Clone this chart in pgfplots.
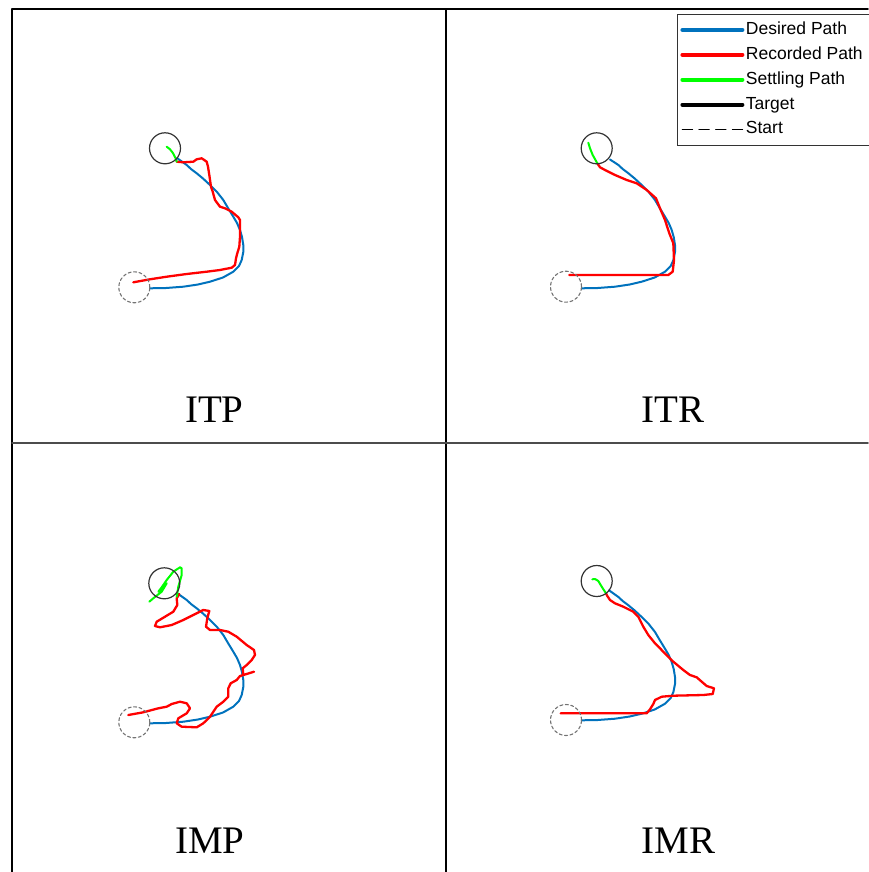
\documentclass[border=0pt]{standalone}
\usepackage{pgfplots}
\pgfplotsset{compat=1.18}
\usepackage{fontspec}
\setmainfont{Liberation Serif}
\newfontfamily\legfont{Liberation Sans}
\definecolor{mblue}{RGB}{0,114,189}
\definecolor{mred}{RGB}{255,0,0}
\definecolor{mgreen}{RGB}{0,255,0}
\begin{document}
\begin{tikzpicture}
\begin{axis}[name=main, width=868pt, height=872pt, scale only axis,
  xmin=0, xmax=868, ymin=0, ymax=872, y dir=reverse, hide axis, clip=false,
  legend style={at={(axis cs:677,14)}, anchor=north west, draw=black!80, line width=0.8pt, fill=white,
    font=\legfont\fontsize{17.5}{20}\selectfont, inner xsep=3pt, inner ysep=6pt, row sep=5.9pt,
    nodes={inner sep=1.5pt, text height=12.5pt, text depth=3.5pt}},
  legend cell align=left,
  legend image code/.code={\draw[#1] (0pt,0pt) -- (60pt,0pt);},
  every axis plot/.append style={line join=round, line cap=round},
]
% frame lines
\addplot[black, line width=1.6pt, forget plot] coordinates {(12,872) (12,9.3) (868,9.3)};
\addplot[black, line width=1.6pt, forget plot] coordinates {(445.7,9.3) (445.7,872)};
\addplot[black!70, line width=1.6pt, forget plot] coordinates {(12,442.7) (868,442.7)};

% circles: targets (solid) and starts (dashed)
\addplot[only marks, mark=o, mark size=15.5pt, mark options={draw=black!80, line width=1.2pt}, forget plot]
  coordinates {(165,148.3) (596.7,148.3) (164.3,583.3) (596.7,581)};
\addplot[only marks, mark=o, mark size=15.5pt, mark options={draw=black!55, line width=1.1pt, dash pattern=on 3pt off 2.5pt}, forget plot]
  coordinates {(134.3,287.3) (566,286.7) (134.3,722.3) (566,720)};

% desired paths
\addplot[mblue, line width=2pt, forget plot] coordinates {
(150,288.3) (166,288) (183.3,286.7) (198,284.5) (210,281.7) (223,277.5) (233.3,271.7) (239,266) (241.7,260) (243.3,252) (243.3,245) (242,237) (240,230) (237,223) (233.3,216.7) (228,208) (223.3,200) (217,192) (210,185) (203,178.5) (196.7,173.3) (191,169) (186.7,165) (177.3,158.3)};
\addplot[mblue, line width=2pt, forget plot] coordinates {
(581.7,288.3) (597.7,288) (615,286.7) (629.7,284.5) (641.7,281.7) (654.7,277.5) (665,271.7) (670.7,266) (673.4,260) (675,252) (675,245) (673.7,237) (671.7,230) (668.7,223) (665,216.7) (659.7,208) (655,200) (648.7,192) (641.7,185) (634.7,178.5) (628.4,173.3) (622.7,169) (618.4,165) (610,159.5)};
\addplot[mblue, line width=2pt, forget plot] coordinates {
(150,723.3) (166,723) (183.3,721.7) (198,719.5) (210,716.7) (223,712.5) (233.3,706.7) (239,701) (241.7,695) (243.3,687) (243.3,680) (242,672) (240,665) (237,658) (233.3,651.7) (228,643) (223.3,635) (217,627) (210,620) (203,613.5) (196.7,608.3) (191,604) (186.7,600) (177.3,593.3)};
\addplot[mblue, line width=2pt, forget plot] coordinates {
(581.7,720.3) (597.7,720) (615,718.7) (629.7,716.5) (641.7,713.7) (654.7,709.5) (665,703.7) (670.7,698) (673.4,692) (675,684) (675,677) (673.7,669) (671.7,662) (668.7,655) (665,648.7) (659.7,640) (655,632) (648.7,624) (641.7,617) (634.7,610.5) (628.4,605.3) (622.7,601) (618.4,597) (609,590.3)};

% recorded paths
\addplot[mred, line width=2.3pt, forget plot] coordinates {
(133.3,282.3) (150,279.3) (166.7,276.7) (186.7,274) (206.7,271.7) (220,270) (231.7,267.7) (235,265) (236,258.3) (237.3,253.3) (239.3,246.7) (240,236.7) (240,220) (238.3,217.3) (231.7,211.7) (225,208.3) (220,206.7) (215,200) (212.7,191.7) (211,186.7) (209.3,175) (208,166.7) (206.7,161.7) (201.7,158.3) (196.7,159.3) (193.3,161.7) (183.3,162.3) (176.7,161.7)};
\addplot[mred, line width=2.3pt, forget plot] coordinates {
(569.3,275) (668.3,275) (672.7,271.7) (674,260) (673.3,243.3) (669.3,233.3) (665,220) (660.7,210) (656,198.3) (646.7,190) (636.7,183.3) (626.7,180) (615,175) (605,170) (600,167.3) (597.3,163.3)};
\addplot[mred, line width=2.3pt, forget plot] coordinates {
(128.3,715) (143.3,712.3) (158.3,708.3) (166.7,706.7) (171.7,704) (180,701.7) (186.7,703.3) (190,708.3) (186.7,713.3) (178.3,718.3) (176.7,723.3) (181.7,726.7) (196.7,727.3) (203.3,723.3) (210,716.7) (216.7,706.7) (223.3,701.7) (228.3,696.7) (228.3,688.3) (230.7,683.3) (236.7,680) (240,676) (246.7,674) (254,671.7) (243.3,675) (242.7,668.3) (246.7,665) (251.7,660) (255,655) (254,650) (246.7,645) (236.7,636.7) (228.3,631.7) (220,630) (210,630) (206,626.7) (207.3,618.3) (209.3,611) (203.3,610) (193.3,615) (183.3,620) (171.7,625) (160,627.3) (155,626) (156.7,621.7) (165,616.7) (173.3,611.7) (177.3,605) (176.7,598.3) (179.3,594)};
\addplot[mred, line width=2.3pt, forget plot] coordinates {
(560.7,713.3) (646.7,713.3) (650,709.3) (653.3,704) (655,700) (661.7,696.7) (673.3,695.7) (703.3,695) (712.7,694) (714,688.3) (706.7,686) (701.7,681.7) (696.7,677.3) (690,675) (683.3,670) (673.3,661.7) (663.3,651.7) (655,643.3) (648.3,635) (643.3,626.7) (638.3,616.7) (633.3,611.7) (623.3,606.7) (615,603.3) (610,600) (607.3,596) (606,593.3)};

% settling paths
\addplot[mgreen, line width=2pt, forget plot] coordinates {
(176.7,161.7) (175.5,158) (172.7,152.7) (170,149.3) (166.7,146.7)};
\addplot[mgreen, line width=2pt, forget plot] coordinates {
(597.3,163.3) (592.7,155) (590,148.3) (588.3,142.7)};
\addplot[mgreen, line width=2pt, forget plot] coordinates {
(176.7,596.7) (178.3,586.7) (181.7,575) (181.7,568.3) (180,567.3) (173.3,571.7) (166.7,580) (161.7,587.3) (158.3,591.7) (163.3,588.3) (166.7,583.3) (161.7,591.7) (153.3,598.3) (149.3,601.7)};
\addplot[mgreen, line width=2pt, forget plot] coordinates {
(606,593.3) (601.7,586.7) (598.3,581) (595,579) (592.3,579.3)};

% legend
\addlegendimage{mblue, line width=4pt}
\addlegendentry{Desired Path}
\addlegendimage{mred, line width=4pt}
\addlegendentry{Recorded Path\hspace*{20pt}}
\addlegendimage{mgreen, line width=4pt}
\addlegendentry{Settling Path}
\addlegendimage{black, line width=4pt}
\addlegendentry{Target}
\addlegendimage{black, line width=1.5pt, dash pattern=on 10pt off 6.7pt}
\addlegendentry{Start}

% titles
\node[anchor=base, font=\fontsize{39}{41}\selectfont, inner sep=0pt] at (axis cs:214.3,422.7) {ITP};
\node[anchor=base, font=\fontsize{39}{41}\selectfont, inner sep=0pt] at (axis cs:673.3,422.7) {ITR};
\node[anchor=base, font=\fontsize{39}{41}\selectfont, inner sep=0pt] at (axis cs:210,853) {IMP};
\node[anchor=base, font=\fontsize{39}{41}\selectfont, inner sep=0pt] at (axis cs:678.3,853) {IMR};
\end{axis}
\pgfresetboundingbox
\path[use as bounding box] (main.south west) rectangle (main.north east);
\end{tikzpicture}
\end{document}
